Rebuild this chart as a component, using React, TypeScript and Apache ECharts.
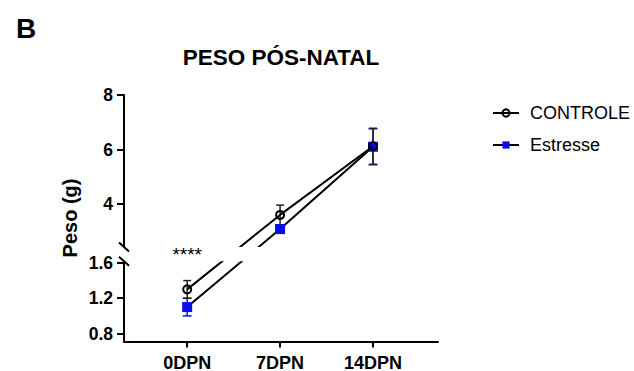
import React, { useEffect, useRef } from "react";
import * as echarts from "echarts";

// ---- data ----
const categories = ["0DPN", "7DPN", "14DPN"];
const seriesNames = ["CONTROLE", "Estresse"];
const controleMean = [1.3, 3.6, 6.12];
const controleSem = [0.1, 0.36, 0.66];
const estresseMean = [1.1, 3.08, 6.1];
const estresseSem = [0.1, 0.15, 0.66];
const yTicks = [0.8, 1.2, 1.6, 4, 6, 8];
const titleText = "PESO PÓS-NATAL";
const panelLetter = "B";
const yAxisTitle = "Peso (g)";
const significance = "****";

// ---- broken y axis: two linear segments placed on one virtual axis ----
const lowerSeg = [0.71, 1.62];
const upperSeg = [2.42, 8];
const lowerVirt = [0, 32.6];
const upperVirt = [38.3, 100];

function toVirt(v: number): number {
  if (v <= (lowerSeg[1] + upperSeg[0]) / 2) {
    return lowerVirt[0] + ((v - lowerSeg[0]) / (lowerSeg[1] - lowerSeg[0])) * (lowerVirt[1] - lowerVirt[0]);
  }
  return upperVirt[0] + ((v - upperSeg[0]) / (upperSeg[1] - upperSeg[0])) * (upperVirt[1] - upperVirt[0]);
}
function fromVirt(t: number): number {
  if (t <= (lowerVirt[1] + upperVirt[0]) / 2) {
    return lowerSeg[0] + ((t - lowerVirt[0]) / (lowerVirt[1] - lowerVirt[0])) * (lowerSeg[1] - lowerSeg[0]);
  }
  return upperSeg[0] + ((t - upperVirt[0]) / (upperVirt[1] - upperVirt[0])) * (upperSeg[1] - upperSeg[0]);
}

const FONT = "Liberation Sans, Arial, sans-serif";

function errorSeries(name: string, means: number[], sems: number[], color: string, z: number, cap: number) {
  return {
    type: "custom",
    name,
    z,
    encode: { x: 0, y: [1, 2] },
    data: means.map((m, i) => [i, toVirt(m - sems[i]), toVirt(m + sems[i])]),
    renderItem: (params: any, api: any) => {
      const x = api.value(0);
      const lo = api.coord([x, api.value(1)]);
      const hi = api.coord([x, api.value(2)]);
      const style = { stroke: color, lineWidth: 1.5 };
      return {
        type: "group",
        children: [
          { type: "line", shape: { x1: lo[0], y1: lo[1], x2: hi[0], y2: hi[1] }, style },
          { type: "line", shape: { x1: lo[0] - cap, y1: lo[1], x2: lo[0] + cap, y2: lo[1] }, style },
          { type: "line", shape: { x1: hi[0] - cap, y1: hi[1], x2: hi[0] + cap, y2: hi[1] }, style },
        ],
      };
    },
  };
}

export default function App() {
  const ref = useRef<HTMLDivElement>(null);
  useEffect(() => {
    const chart = echarts.init(ref.current!, null, { renderer: "svg" });
    const tickVirt = yTicks.map(toVirt);
    chart.setOption({
      animation: false,
      backgroundColor: "#ffffff",
      textStyle: { fontFamily: FONT },
      grid: { left: 124, right: 196, top: 95, bottom: 29.5, outerBoundsMode: "none", containLabel: false },
      legend: {
        data: seriesNames,
        orient: "vertical",
        left: 487,
        top: 99,
        itemWidth: 26,
        itemHeight: 9,
        itemGap: 14,
        textStyle: { fontSize: 18, color: "#000", fontFamily: FONT, padding: [0, 0, 0, 6] },
      },
      xAxis: {
        type: "value",
        min: -0.68,
        max: 2.7,
        splitLine: { show: false },
        axisLine: { onZero: false, lineStyle: { color: "#000", width: 2 } },
        axisTick: { customValues: [0, 1, 2], length: 6, lineStyle: { color: "#000", width: 2 } },
        axisLabel: {
          customValues: [0, 1, 2],
          formatter: (v: number) => categories[Math.round(v)] ?? "",
          margin: 12,
          fontSize: 18,
          fontWeight: "bold",
          color: "#000",
          fontFamily: FONT,
        },
      },
      yAxis: {
        type: "value",
        min: 0,
        max: 100,
        splitLine: { show: false },
        axisLine: { show: true, onZero: false, lineStyle: { color: "#000", width: 2 } },
        axisTick: { show: true, customValues: tickVirt, length: 7, lineStyle: { color: "#000", width: 2 } },
        axisLabel: {
          customValues: tickVirt,
          formatter: (t: number) => {
            const v = fromVirt(t);
            return v < 2 ? v.toFixed(1) : String(Math.round(v));
          },
          margin: 11,
          fontSize: 17.5,
          fontWeight: "bold",
          color: "#000",
          fontFamily: FONT,
        },
      },
      series: [
        errorSeries("errE", estresseMean, estresseSem, "#1010f0", 3, 4.5),
        errorSeries("errC", controleMean, controleSem, "#222", 4, 4),
        {
          type: "line",
          name: seriesNames[1],
          z: 5,
          data: estresseMean.map((m, i) => [i, toVirt(m)]),
          symbol: "rect",
          symbolSize: 10,
          itemStyle: { color: "#0a0af5" },
          lineStyle: { color: "#000", width: 2 },
        },
        {
          type: "line",
          name: seriesNames[0],
          z: 6,
          data: controleMean.map((m, i) => [i, toVirt(m)]),
          symbol: "circle",
          symbolSize: 8,
          showAllSymbol: true,
          itemStyle: { color: "rgba(255,255,255,0)", borderColor: "#000", borderWidth: 2 },
          lineStyle: { color: "#000", width: 2 },
        },
      ],
    });

    const px = (x: number, t: number) => chart.convertToPixel({ gridIndex: 0 }, [x, t]) as number[];
    const axisX = px(-0.68, 0)[0];
    const rightX = px(2.7, 0)[0];
    const yU = px(0, upperVirt[0])[1];
    const yL = px(0, lowerVirt[1])[1];
    const starX = px(0, 0)[0];
    const slash = (y: number, id: string) => ({
      type: "line",
      id,
      z: 101,
      shape: { x1: axisX - 5, y1: y - 4.5, x2: axisX + 5, y2: y + 4.5 },
      style: { stroke: "#000", lineWidth: 2 },
    });
    chart.setOption({
      graphic: {
        elements: [
          {
            type: "rect",
            id: "breakBand",
            z: 100,
            shape: { x: axisX - 3, y: yU, width: rightX - axisX + 6, height: yL - yU },
            style: { fill: "#ffffff" },
          },
          slash(yU, "slashU"),
          slash(yL, "slashL"),
          {
            type: "text",
            id: "stars",
            z: 102,
            x: starX,
            y: yU - 2,
            style: { text: significance, fontSize: 19, fontFamily: FONT, fill: "#000", align: "center", verticalAlign: "top" },
          },
          {
            type: "text",
            id: "title",
            z: 102,
            x: (axisX + rightX) / 2,
            y: 57,
            style: { text: titleText, fontSize: 22.5, fontWeight: "bold", fontFamily: FONT, fill: "#000", align: "center", verticalAlign: "middle" },
          },
          {
            type: "text",
            id: "letter",
            z: 102,
            x: 16,
            y: 28,
            style: { text: panelLetter, fontSize: 28, fontWeight: "bold", fontFamily: FONT, fill: "#000", align: "left", verticalAlign: "middle" },
          },
          {
            type: "text",
            id: "ytitle",
            z: 102,
            x: 70,
            y: 218,
            rotation: Math.PI / 2,
            style: { text: yAxisTitle, fontSize: 20, fontWeight: "bold", fontFamily: FONT, fill: "#000", align: "center", verticalAlign: "middle" },
          },
        ],
      },
    });
    return () => chart.dispose();
  }, []);
  return (
    <div
      ref={ref}
      style={{ position: "absolute", left: 0, top: 0, width: 634, height: 371, background: "#fff" }}
    />
  );
}
